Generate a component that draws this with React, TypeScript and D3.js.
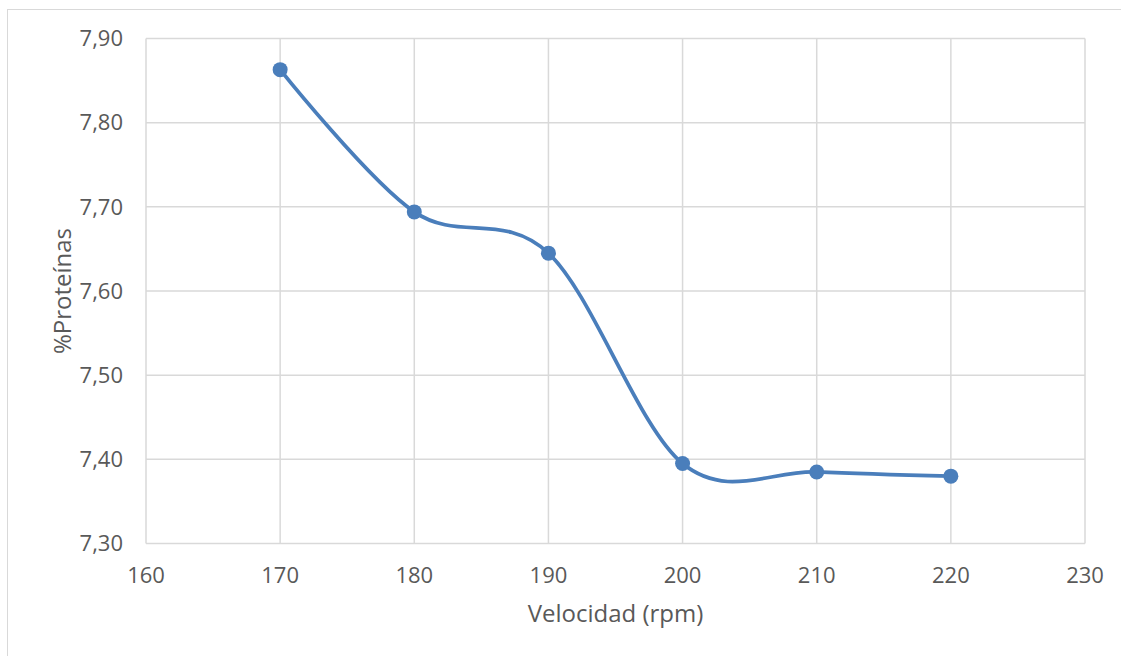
import React from "react";
import * as d3 from "d3";

const velocidad = [170, 180, 190, 200, 210, 220];
const proteinas = [7.863, 7.694, 7.645, 7.395, 7.385, 7.38];
const xTicks = [160, 170, 180, 190, 200, 210, 220, 230];
const yTicks = [7.3, 7.4, 7.5, 7.6, 7.7, 7.8, 7.9];

const W = 1121;
const H = 656;
const plot = { left: 146, right: 1085, top: 38.5, bottom: 543.5 };
const font = "'Open Sans', 'Liberation Sans', sans-serif";
const textColor = "#595959";
const seriesColor = "#4a7ebb";

export default function App() {
  const x = d3.scaleLinear().domain([160, 230]).range([plot.left, plot.right]);
  const y = d3.scaleLinear().domain([7.3, 7.9]).range([plot.bottom, plot.top]);
  const fmt = (v: number) => v.toFixed(2).replace(".", ",");
  const pts = velocidad.map((v, i) => [v, proteinas[i]] as [number, number]);
  const line = d3
    .line<[number, number]>()
    .x((d) => x(d[0]))
    .y((d) => y(d[1]))
    .curve(d3.curveCardinal.tension(0));

  return (
    <svg
      width={W}
      height={H}
      style={{ position: "absolute", left: 0, top: 0, background: "#fff" }}
      fontFamily={font}
    >
      <rect x={7.5} y={9.5} width={W} height={H} fill="#fff" stroke="#d9d9d9" strokeWidth={1} />
      {yTicks.map((t) => (
        <line key={"gy" + t} x1={plot.left} x2={plot.right} y1={y(t)} y2={y(t)} stroke="#d9d9d9" strokeWidth={1.5} />
      ))}
      {xTicks.map((t) => (
        <line key={"gx" + t} x1={x(t)} x2={x(t)} y1={plot.top} y2={plot.bottom} stroke="#d9d9d9" strokeWidth={1.5} />
      ))}
      {yTicks.map((t) => (
        <text key={"ty" + t} x={123} y={y(t)} dy="0.35em" textAnchor="end" fontSize={22} fill={textColor}>
          {fmt(t)}
        </text>
      ))}
      {xTicks.map((t) => (
        <text key={"tx" + t} x={x(t)} y={575} dy="0.35em" textAnchor="middle" fontSize={22} fill={textColor}>
          {t}
        </text>
      ))}
      <text x={(plot.left + plot.right) / 2} y={614} dy="0.35em" textAnchor="middle" fontSize={24} fill={textColor}>
        Velocidad (rpm)
      </text>
      <text
        transform={`translate(63,${(plot.top + plot.bottom) / 2}) rotate(-90)`}
        dy="0.35em"
        textAnchor="middle"
        fontSize={24}
        fill={textColor}
      >
        %Proteínas
      </text>
      <path d={line(pts) || ""} fill="none" stroke={seriesColor} strokeWidth={3.75} strokeLinecap="round" />
      {pts.map((p, i) => (
        <circle key={i} cx={x(p[0])} cy={y(p[1])} r={7.5} fill={seriesColor} />
      ))}
    </svg>
  );
}
